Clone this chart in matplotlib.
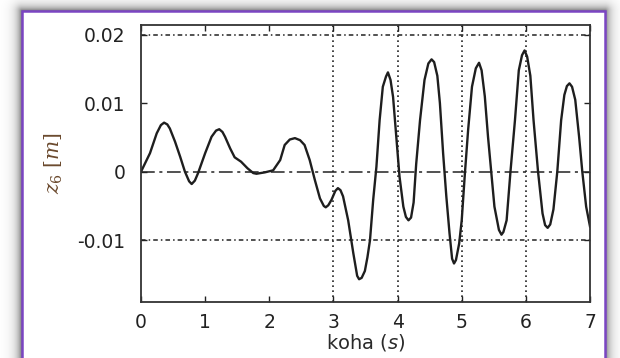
import matplotlib
matplotlib.use("Agg")
import matplotlib.pyplot as plt
import numpy as np

# values
t = [0.0, 0.14, 0.245, 0.31, 0.36, 0.41, 0.45, 0.53, 0.61, 0.685, 0.75, 0.79,
     0.84, 0.89, 1.0, 1.10, 1.17, 1.22, 1.27, 1.31, 1.39, 1.46, 1.56, 1.66,
     1.75, 1.80, 1.93, 2.06, 2.17, 2.24, 2.32, 2.40, 2.48, 2.55, 2.63, 2.71,
     2.79, 2.85, 2.88, 2.92, 2.97, 3.03, 3.07, 3.11, 3.15, 3.23, 3.31, 3.37,
     3.40, 3.44, 3.49, 3.53, 3.57, 3.62, 3.67, 3.72, 3.77, 3.82, 3.85, 3.89,
     3.93, 3.98, 4.03, 4.09, 4.13, 4.17, 4.21, 4.25, 4.29, 4.35, 4.42, 4.48,
     4.53, 4.57, 4.62, 4.66, 4.71, 4.76, 4.81, 4.85, 4.88, 4.91, 4.96, 5.00,
     5.05, 5.10, 5.16, 5.22, 5.27, 5.31, 5.36, 5.41, 5.46, 5.51, 5.58, 5.62,
     5.65, 5.70, 5.76, 5.83, 5.89, 5.94, 5.98, 6.02, 6.07, 6.12, 6.19, 6.26,
     6.30, 6.34, 6.38, 6.43, 6.49, 6.55, 6.60, 6.64, 6.68, 6.72, 6.77, 6.83,
     6.88, 6.94, 7.0]
z6 = [0.0, 0.0027, 0.0056, 0.0068, 0.00716, 0.0069, 0.0063, 0.0044, 0.0022,
      0.0, -0.0014, -0.0018, -0.0013, -0.0002, 0.0027, 0.0051, 0.0060, 0.0062,
      0.0058, 0.0051, 0.0034, 0.0021, 0.00146, 0.0005, -0.0002, -0.0003,
      -0.0001, 0.0002, 0.0017, 0.0039, 0.0047, 0.0049, 0.0046, 0.0039, 0.0017,
      -0.0012, -0.0039, -0.0050, -0.0052, -0.0049, -0.0041, -0.0028, -0.0024,
      -0.0027, -0.0036, -0.0071, -0.0119, -0.0152, -0.0157, -0.0155, -0.0145,
      -0.0125, -0.0100, -0.0041, 0.0007, 0.0075, 0.0124, 0.0139, 0.0145,
      0.0134, 0.0109, 0.0051, -0.0007, -0.0051, -0.0066, -0.0071, -0.0067,
      -0.0045, 0.0011, 0.0075, 0.0134, 0.0158, 0.0164, 0.0160, 0.0140, 0.0100,
      0.0027, -0.0036, -0.0090, -0.0127, -0.0134, -0.0129, -0.0105, -0.0071,
      -0.0002, 0.0061, 0.0124, 0.0151, 0.0159, 0.0148, 0.0110, 0.0051, 0.0,
      -0.0051, -0.0085, -0.0092, -0.0088, -0.0071, 0.0, 0.0075, 0.0148, 0.0170,
      0.0177, 0.0168, 0.0140, 0.0075, 0.0, -0.0061, -0.0078, -0.0082, -0.0077,
      -0.0055, 0.0, 0.0075, 0.0112, 0.0125, 0.0129, 0.0124, 0.0105, 0.0051,
      0.0, -0.0051, -0.008]

xticks = [0, 1, 2, 3, 4, 5, 6, 7]
yticks = [-0.01, 0, 0.01, 0.02]
ytick_labels = ["-0.01", "0", "0.01", "0.02"]
vgrid = [3, 4, 5, 6]
hgrid = [0.02, -0.01]

plt.rcParams["mathtext.fontset"] = "custom"
plt.rcParams["mathtext.rm"] = "DejaVu Serif"
plt.rcParams["mathtext.it"] = "DejaVu Serif:italic"
plt.rcParams["mathtext.sf"] = "DejaVu Sans:italic"

W, H = 620, 358
fig = plt.figure(figsize=(6.2, 3.58), dpi=100)

# background: white page, grey shadow, purple framed card
bg = fig.add_axes([0, 0, 1, 1])
bg.set_xlim(0, W)
bg.set_ylim(H, 0)
bg.axis("off")
xx, yy = np.meshgrid(np.arange(W) + 0.5, np.arange(H) + 0.5)
dx = np.maximum(np.maximum(22 - xx, xx - 605), 0)
dy = np.maximum(11 - yy, 0)
d = np.hypot(dx, dy)
shade = 1 - 0.55 * np.exp(-d / 5.0)
bg.imshow(shade, cmap="gray", vmin=0, vmax=1, extent=(0, W, H, 0),
          interpolation="bilinear", aspect="auto")
bg.add_patch(plt.Rectangle((22, 11), 583, 360, facecolor="white",
                           edgecolor="#7b45c2", linewidth=1.8))

ax = fig.add_axes([141 / W, 1 - 301.7 / H, (590 - 141) / W, (301.7 - 24.7) / H])
ax.set_facecolor("white")

for x in vgrid:
    ax.axvline(x, color="#222222", linestyle=(0, (1, 2)), linewidth=1.2)
for y in hgrid:
    ax.axhline(y, color="#222222", linestyle=(0, (3, 2, 1, 2)), linewidth=1.1)
ax.axhline(0, color="#222222", linestyle=(0, (9, 3, 2, 3)), linewidth=1.1)

ax.plot(t, z6, color="#1e1e1e", linewidth=1.7)

ax.set_xlim(0, 7)
ax.set_ylim(-0.01898, 0.02146)
ax.set_xticks(xticks)
ax.set_yticks(yticks)
ax.set_yticklabels(ytick_labels)
ax.tick_params(direction="in", length=4, width=1, top=True, right=True,
               labelsize=13.5, colors="#222222", pad=8)
ax.tick_params(axis="y", pad=11)
for s in ax.spines.values():
    s.set_color("#333333")
    s.set_linewidth(1.3)

ax.set_xlabel(r"koha ($\mathsf{s}$)", fontsize=14, color="#2a2a2a", labelpad=0)
ax.set_ylabel(r"$z_6\ [m]$", fontsize=14.5, color="#6b4a2e", labelpad=9)

fig.savefig("out.png", dpi=100)
